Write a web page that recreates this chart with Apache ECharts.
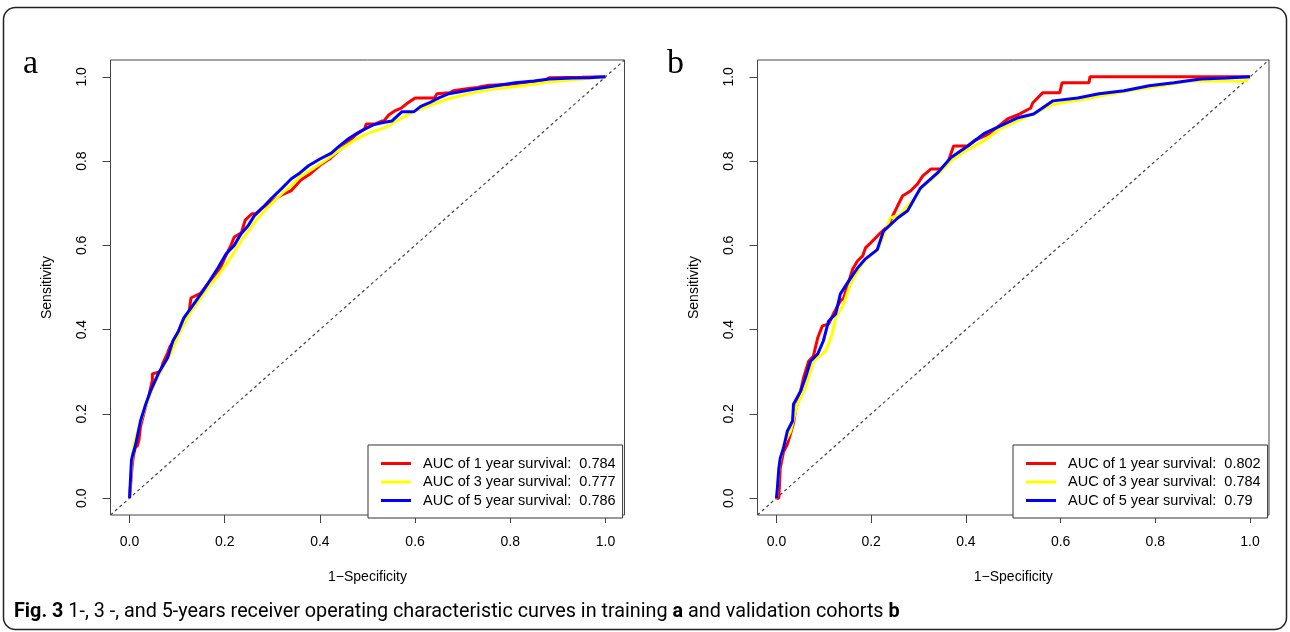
<!DOCTYPE html>
<html>
<head>
<meta charset="utf-8">
<script src="https://cdn.jsdelivr.net/npm/echarts@6/dist/echarts.min.js"></script>
<style>
  html, body { margin: 0; padding: 0; background: #fff; }
  #chart { width: 1290px; height: 632px; }
</style>
</head>
<body>
<div id="chart"></div>
<script>
  // tick values shared by both panels
  var tickValues = [0, 0.2, 0.4, 0.6, 0.8, 1.0];
  var diagonal = [[-0.04, -0.04], [1.04, 1.04]];

  // legend texts
  var trainNames = ['AUC of 1 year survival:  0.784', 'AUC of 3 year survival:  0.777', 'AUC of 5 year survival:  0.786'];
  var validNames = ['AUC of 1 year survival:  0.802', 'AUC of 3 year survival:  0.784', 'AUC of 5 year survival:  0.79'];

  // training cohort (a): [1-specificity, sensitivity]
  var train1 = [[0,0],[0.004,0],[0.005,0.07],[0.008,0.1],[0.012,0.12],[0.017,0.125],[0.02,0.14],[0.023,0.17],[0.03,0.2],[0.04,0.24],[0.048,0.28],[0.048,0.295],[0.065,0.3],[0.07,0.32],[0.08,0.345],[0.085,0.36],[0.095,0.375],[0.105,0.4],[0.115,0.425],[0.125,0.44],[0.129,0.475],[0.15,0.487],[0.165,0.51],[0.181,0.525],[0.19,0.545],[0.2,0.57],[0.213,0.6],[0.22,0.62],[0.235,0.63],[0.243,0.66],[0.257,0.675],[0.265,0.675],[0.28,0.69],[0.3,0.705],[0.32,0.72],[0.34,0.73],[0.36,0.755],[0.38,0.77],[0.4,0.79],[0.42,0.805],[0.44,0.825],[0.46,0.845],[0.475,0.862],[0.494,0.876],[0.497,0.888],[0.515,0.888],[0.53,0.895],[0.535,0.896],[0.545,0.91],[0.557,0.919],[0.57,0.925],[0.582,0.936],[0.6,0.95],[0.641,0.95],[0.646,0.96],[0.673,0.962],[0.68,0.967],[0.705,0.971],[0.73,0.975],[0.755,0.98],[0.8,0.982],[0.825,0.986],[0.87,0.99],[0.882,0.998],[0.95,0.999],[1,1]];
  var train3 = [[0,0],[0.003,0],[0.005,0.09],[0.01,0.13],[0.02,0.17],[0.03,0.205],[0.045,0.25],[0.06,0.29],[0.075,0.32],[0.086,0.342],[0.1,0.38],[0.115,0.415],[0.13,0.445],[0.15,0.475],[0.165,0.5],[0.18,0.52],[0.2,0.55],[0.215,0.575],[0.234,0.61],[0.25,0.635],[0.27,0.665],[0.29,0.69],[0.319,0.722],[0.34,0.742],[0.36,0.765],[0.388,0.784],[0.41,0.8],[0.44,0.825],[0.47,0.848],[0.5,0.866],[0.536,0.879],[0.56,0.895],[0.6,0.919],[0.63,0.932],[0.67,0.948],[0.72,0.962],[0.77,0.972],[0.825,0.979],[0.88,0.988],[0.95,0.995],[1,1]];
  var train5 = [[0,0],[0.004,0.09],[0.006,0.1],[0.013,0.128],[0.023,0.183],[0.034,0.223],[0.044,0.254],[0.061,0.297],[0.08,0.333],[0.091,0.373],[0.103,0.397],[0.114,0.428],[0.129,0.451],[0.15,0.485],[0.165,0.51],[0.186,0.547],[0.203,0.58],[0.22,0.6],[0.234,0.627],[0.25,0.648],[0.262,0.67],[0.28,0.69],[0.297,0.71],[0.319,0.734],[0.34,0.758],[0.358,0.772],[0.376,0.789],[0.4,0.805],[0.424,0.819],[0.44,0.835],[0.46,0.853],[0.478,0.866],[0.494,0.876],[0.512,0.886],[0.53,0.891],[0.551,0.895],[0.572,0.917],[0.597,0.917],[0.612,0.93],[0.629,0.938],[0.65,0.95],[0.671,0.96],[0.7,0.966],[0.726,0.971],[0.77,0.979],[0.81,0.986],[0.85,0.99],[0.882,0.995],[0.93,0.997],[0.966,0.998],[1,1]];

  // validation cohort (b)
  var valid1 = [[0,0],[0.005,0],[0.008,0.071],[0.015,0.11],[0.023,0.128],[0.03,0.154],[0.036,0.178],[0.04,0.207],[0.051,0.254],[0.057,0.285],[0.068,0.325],[0.078,0.337],[0.087,0.38],[0.097,0.409],[0.11,0.413],[0.12,0.437],[0.135,0.468],[0.142,0.475],[0.161,0.544],[0.171,0.563],[0.182,0.575],[0.188,0.594],[0.199,0.606],[0.22,0.63],[0.235,0.646],[0.256,0.694],[0.266,0.717],[0.283,0.729],[0.298,0.746],[0.309,0.765],[0.326,0.781],[0.347,0.781],[0.361,0.793],[0.374,0.836],[0.404,0.836],[0.42,0.85],[0.45,0.865],[0.488,0.9],[0.514,0.912],[0.537,0.926],[0.541,0.938],[0.562,0.962],[0.598,0.962],[0.603,0.986],[0.66,0.986],[0.662,1],[1,1]];
  var valid3 = [[0,0],[0.004,0],[0.006,0.08],[0.015,0.128],[0.03,0.159],[0.044,0.223],[0.061,0.261],[0.078,0.325],[0.104,0.349],[0.118,0.39],[0.125,0.428],[0.142,0.461],[0.156,0.508],[0.178,0.551],[0.192,0.57],[0.215,0.59],[0.24,0.665],[0.26,0.672],[0.29,0.71],[0.31,0.74],[0.34,0.768],[0.368,0.8],[0.4,0.825],[0.438,0.848],[0.47,0.875],[0.51,0.896],[0.543,0.912],[0.584,0.935],[0.64,0.945],[0.7,0.958],[0.76,0.97],[0.82,0.98],[0.87,0.99],[0.99,0.99],[1,1]];
  var valid5 = [[0,0],[0.002,0.024],[0.005,0.07],[0.008,0.095],[0.015,0.119],[0.023,0.159],[0.034,0.183],[0.036,0.223],[0.051,0.254],[0.061,0.285],[0.072,0.325],[0.087,0.342],[0.099,0.373],[0.11,0.42],[0.125,0.437],[0.135,0.485],[0.15,0.511],[0.171,0.546],[0.188,0.568],[0.213,0.59],[0.226,0.634],[0.256,0.665],[0.277,0.682],[0.304,0.736],[0.34,0.772],[0.368,0.808],[0.404,0.836],[0.438,0.865],[0.474,0.884],[0.51,0.903],[0.543,0.912],[0.584,0.943],[0.636,0.95],[0.681,0.96],[0.734,0.967],[0.787,0.979],[0.839,0.986],[0.896,0.995],[0.95,0.997],[1,1]];

  var colors = ['#ff0000', '#ffff00', '#0000ff'];
  var font = "'Liberation Sans', Arial, sans-serif";
  var capFont = "Roboto, 'Liberation Sans', sans-serif";

  function makeX(i) {
    return {
      gridIndex: i, type: 'value', min: -0.04, max: 1.04,
      name: '1\u2212Specificity', nameLocation: 'middle', nameGap: 55,
      nameTextStyle: { color: '#000', fontSize: 14, fontFamily: font },
      splitLine: { show: false }, axisLine: { show: false, onZero: false },
      axisTick: { show: true, length: 8, customValues: tickValues, lineStyle: { color: '#444' } },
      axisLabel: { customValues: tickValues, margin: 20, color: '#000', fontSize: 14, fontFamily: font,
        formatter: function (v) { return v.toFixed(1); } }
    };
  }
  function makeY(i) {
    return {
      gridIndex: i, type: 'value', min: -0.04, max: 1.04,
      name: 'Sensitivity', nameLocation: 'middle', nameGap: 56,
      nameTextStyle: { color: '#000', fontSize: 14, fontFamily: font },
      splitLine: { show: false }, axisLine: { show: false, onZero: false },
      axisTick: { show: true, length: 8, customValues: tickValues, lineStyle: { color: '#444' } },
      axisLabel: { customValues: tickValues, margin: 21, rotate: 90, color: '#000', fontSize: 14, fontFamily: font,
        formatter: function (v) { return v.toFixed(1); } }
    };
  }
  function curves(i, names, sets) {
    var out = sets.map(function (d, k) {
      return {
        name: names[k], type: 'line', xAxisIndex: i, yAxisIndex: i,
        data: d, symbol: 'none', showSymbol: false, silent: true,
        lineStyle: { color: colors[k], width: 3 }, itemStyle: { color: colors[k] }
      };
    });
    out.unshift({
      type: 'line', xAxisIndex: i, yAxisIndex: i, data: diagonal, symbol: 'none', silent: true,
      lineStyle: { color: '#444', width: 1.2, type: [3, 3] }
    });
    return out;
  }
  function makeLegend(names, left) {
    return {
      data: names, orient: 'vertical', left: left, top: 445,
      icon: 'rect', itemWidth: 30, itemHeight: 3, itemGap: 3.5,
      padding: [11, 7, 10, 13], borderColor: '#333', borderWidth: 1, backgroundColor: '#fff',
      selectedMode: false,
      textStyle: { color: '#000', fontSize: 14.5, fontFamily: font, lineHeight: 14, padding: [0, 0, 0, 7] }
    };
  }

  var chart = echarts.init(document.getElementById('chart'), null, { renderer: 'canvas' });
  chart.setOption({
    animation: false,
    backgroundColor: '#fff',
    grid: [
      { left: 110.5, top: 60, width: 514, height: 455, show: true, borderColor: '#444', borderWidth: 1, backgroundColor: 'transparent', outerBoundsMode: 'none' },
      { left: 757.5, top: 60, width: 511.5, height: 455, show: true, borderColor: '#444', borderWidth: 1, backgroundColor: 'transparent', outerBoundsMode: 'none' }
    ],
    xAxis: [makeX(0), makeX(1)],
    yAxis: [makeY(0), makeY(1)],
    legend: [makeLegend(trainNames, 368), makeLegend(validNames, 1013)],
    series: curves(0, trainNames, [train1, train3, train5]).concat(curves(1, validNames, [valid1, valid3, valid5])),
    graphic: [
      { type: 'rect', shape: { x: 3.5, y: 7.5, width: 1283, height: 622, r: 12 }, style: { fill: 'none', stroke: '#222', lineWidth: 1.5 }, silent: true },
      { type: 'text', x: 23, y: 47, style: { text: 'a', font: "34px 'Liberation Serif', serif", fill: '#000', verticalAlign: 'alphabetic' } },
      { type: 'text', x: 667, y: 47, style: { text: 'b', font: "34px 'Liberation Serif', serif", fill: '#000', verticalAlign: 'alphabetic' } },
      { type: 'text', x: 14, y: 612, style: {
          text: '{b|Fig. 3} 1-, 3 -, and 5-years receiver operating characteristic curves in training {b|a} and validation cohorts {b|b}',
          fontFamily: capFont, fontSize: 19.8, fill: '#000', verticalAlign: 'middle',
          rich: { b: { fontWeight: 'bold', fontFamily: capFont, fontSize: 19.8 } }
      } }
    ]
  });
</script>
</body>
</html>
